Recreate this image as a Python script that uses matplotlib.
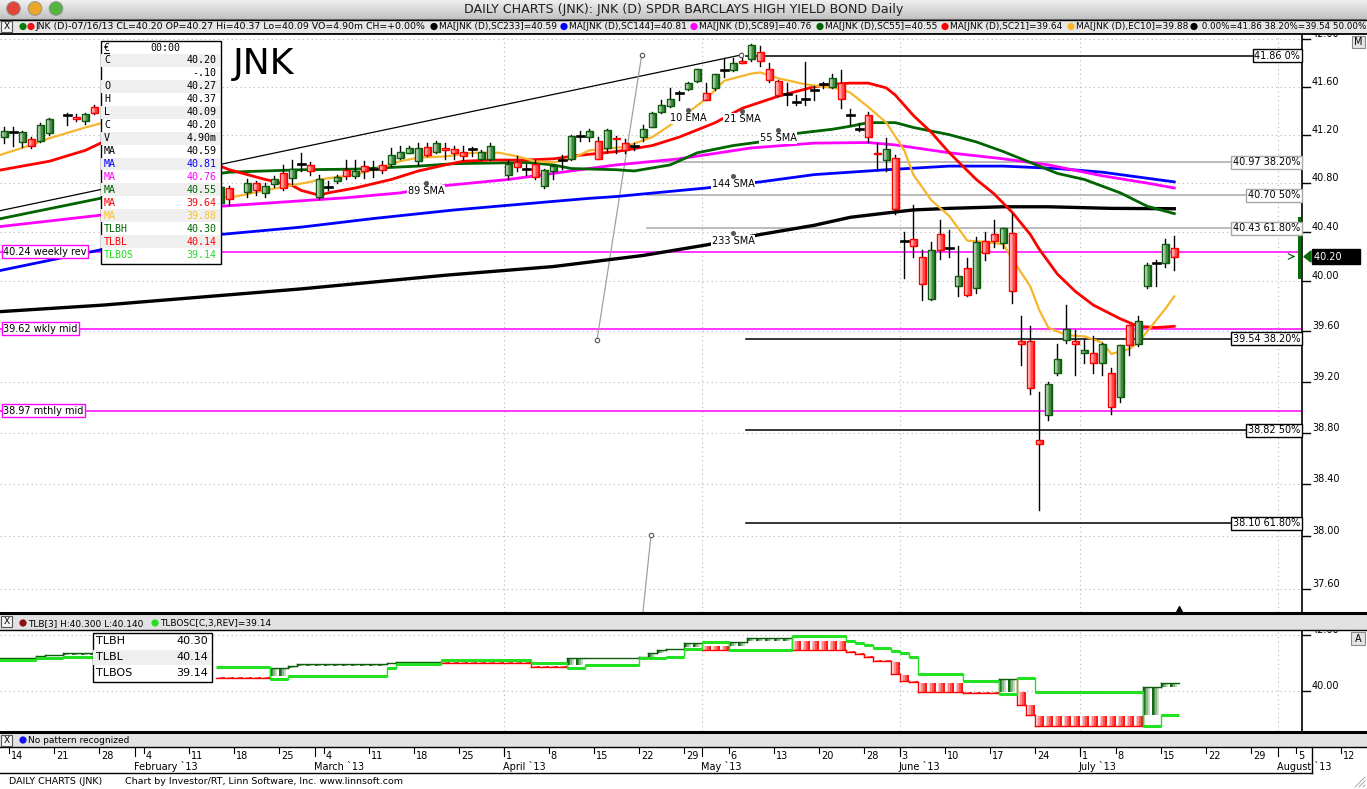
"""JNK daily chart (Investor/RT style) with moving averages and a three-line-break panel."""
import numpy as np
import matplotlib
matplotlib.use("Agg")
import matplotlib.pyplot as plt
from matplotlib.colors import to_rgb
from matplotlib.patches import Circle, Polygon, Rectangle
from matplotlib.transforms import blended_transform_factory

# ── data ───────────────────────────────────────────────────────────────
# slot 0 = Mon Jan 14 2013, one slot per weekday (May 27 / Jul 4 not present,
# Jan 21 / Feb 18 / Mar 29 are empty slots); slots 10-22 sit under the data window
candle_slot = [-1, 0, 1, 2, 3, 4, 6, 7, 8, 9, 23, 24] + list(range(26, 54)) + list(range(55, 130))
candle_open = [41.18, 41.22, 41.14, 41.16, 41.15, 41.21, 41.36, 41.35, 41.31, 41.43,
               40.64, 40.76,
               40.73, 40.80, 40.72, 40.79, 40.88, 40.84, 40.96, 40.95, 40.69, 40.77,
               40.82, 40.91, 40.86, 40.94, 40.92, 40.95, 40.96, 41.01, 41.05, 40.98,
               41.10, 41.06, 41.09, 41.08, 41.06, 41.08, 41.00, 41.00,
               40.87, 40.97, 40.92, 40.96, 40.78, 40.90, 40.99, 41.00, 41.19, 41.18,
               41.15, 41.09, 41.17, 41.13, 41.11, 41.18, 41.26, 41.39, 41.44, 41.55,
               41.58, 41.65, 41.55, 41.59, 41.74, 41.74, 41.82, 41.83, 41.89, 41.75,
               41.65, 41.54, 41.47, 41.50, 41.57, 41.62, 41.60, 41.63, 41.36, 41.25,
               41.36, 41.05, 40.99, 41.01, 40.33, 40.34, 40.20, 39.86, 40.38, 40.27,
               39.96, 40.11, 39.95, 40.33, 40.38, 40.31, 40.39, 39.52, 39.52, 38.74,
               38.94, 39.27, 39.53, 39.52, 39.43, 39.43, 39.35, 39.27, 39.08, 39.65,
               39.50, 39.96, 40.15, 40.15, 40.27]
candle_high = [41.26, 41.26, 41.23, 41.18, 41.30, 41.34, 41.38, 41.37, 41.38, 41.45,
               40.80, 40.78,
               40.83, 40.82, 40.80, 40.86, 40.95, 40.99, 41.05, 40.97, 40.87, 40.82,
               40.87, 40.99, 40.99, 40.98, 40.98, 40.98, 41.09, 41.11, 41.11, 41.13,
               41.13, 41.15, 41.13, 41.11, 41.11, 41.10, 41.07, 41.13,
               40.99, 41.02, 40.96, 40.99, 40.92, 40.95, 41.03, 41.20, 41.23, 41.25,
               41.18, 41.25, 41.19, 41.16, 41.13, 41.28, 41.39, 41.49, 41.59, 41.56,
               41.64, 41.75, 41.63, 41.71, 41.84, 41.84, 41.88, 41.96, 41.94, 41.80,
               41.66, 41.63, 41.53, 41.81, 41.61, 41.64, 41.71, 41.74, 41.41, 41.30,
               41.39, 41.13, 41.17, 41.03, 40.40, 40.62, 40.25, 40.32, 40.50, 40.42,
               40.29, 40.19, 40.36, 40.40, 40.50, 40.43, 40.55, 39.72, 39.64, 39.12,
               39.20, 39.50, 39.81, 39.61, 39.54, 39.56, 39.51, 39.31, 39.49, 39.65,
               39.72, 40.15, 40.17, 40.34, 40.37]
candle_low = [41.13, 41.11, 41.10, 41.09, 41.14, 41.20, 41.28, 41.31, 41.29, 41.37,
              40.62, 40.62,
              40.69, 40.70, 40.69, 40.77, 40.74, 40.79, 40.90, 40.87, 40.67, 40.74,
              40.80, 40.83, 40.84, 40.84, 40.85, 40.88, 40.94, 41.00, 41.05, 40.95,
              41.02, 41.05, 41.00, 41.00, 40.99, 41.02, 40.99, 40.99,
              40.83, 40.90, 40.87, 40.83, 40.76, 40.83, 40.92, 40.99, 41.15, 41.15,
              41.00, 41.06, 41.05, 41.05, 41.07, 41.15, 41.26, 41.38, 41.43, 41.49,
              41.57, 41.64, 41.49, 41.57, 41.68, 41.73, 41.80, 41.82, 41.77, 41.64,
              41.52, 41.45, 41.45, 41.45, 41.49, 41.59, 41.59, 41.42, 41.28, 41.23,
              41.14, 40.91, 40.90, 40.55, 40.03, 40.20, 39.85, 39.85, 40.18, 40.20,
              39.88, 39.88, 39.91, 40.17, 40.28, 40.27, 39.83, 39.33, 39.10, 38.20,
              38.90, 39.25, 39.51, 39.25, 39.35, 39.27, 39.25, 38.95, 39.04, 39.41,
              39.48, 39.95, 39.96, 40.12, 40.09]
candle_close = [41.23, 41.22, 41.22, 41.11, 41.28, 41.33, 41.36, 41.33, 41.37, 41.38,
                40.77, 40.67,
                40.80, 40.74, 40.78, 40.83, 40.76, 40.92, 40.96, 40.90, 40.83, 40.77,
                40.85, 40.86, 40.90, 40.90, 40.92, 40.91, 41.03, 41.06, 41.09, 41.09,
                41.03, 41.13, 41.07, 41.05, 41.02, 41.08, 41.06, 41.11,
                40.96, 40.93, 40.92, 40.85, 40.91, 40.94, 40.99, 41.19, 41.19, 41.23,
                41.00, 41.24, 41.16, 41.07, 41.11, 41.25, 41.38, 41.45, 41.50, 41.55,
                41.63, 41.75, 41.49, 41.71, 41.74, 41.80, 41.80, 41.95, 41.82, 41.66,
                41.53, 41.54, 41.47, 41.50, 41.57, 41.62, 41.67, 41.50, 41.36, 41.25,
                41.18, 41.04, 41.08, 40.59, 40.33, 40.29, 39.98, 40.25, 40.25, 40.27,
                40.04, 39.89, 40.32, 40.23, 40.33, 40.43, 39.92, 39.50, 39.15, 38.71,
                39.18, 39.38, 39.62, 39.50, 39.45, 39.35, 39.50, 39.00, 39.49, 39.49,
                39.68, 40.13, 40.15, 40.30, 40.20]

# moving averages (slot, value)
ema10_slot = [-2, 1, 4, 8, 10, 13, 16, 19, 22, 23, 24, 28, 30, 33, 34, 38, 41, 43, 45, 48,
              51, 54, 56, 58, 60, 62, 64, 68, 71, 74, 77, 79, 82, 83, 85, 88, 90, 92, 93,
              95, 97, 99, 100, 102, 104, 106, 108, 110, 111, 113, 114, 115, 117, 119, 121,
              122, 124, 125, 126, 128, 129]
ema10_val = [41.02, 41.09, 41.17, 41.26, 41.30, 41.15, 40.95, 40.80, 40.70, 40.69, 40.68,
             40.74, 40.77, 40.81, 40.83, 40.87, 40.93, 40.98, 41.01, 41.02, 41.05, 41.05,
             41.02, 40.98, 40.97, 41.00, 41.07, 41.10, 41.18, 41.33, 41.50, 41.65, 41.71,
             41.72, 41.67, 41.62, 41.60, 41.58, 41.55, 41.43, 41.30, 41.07, 40.87, 40.66,
             40.53, 40.33, 40.32, 40.30, 40.18, 39.96, 39.77, 39.63, 39.57, 39.56, 39.51,
             39.42, 39.46, 39.51, 39.60, 39.78, 39.88]
sma21_slot = [-2, 1, 4, 8, 10, 16, 23, 24, 28, 31, 32, 34, 35, 38, 42, 45, 48, 50, 53, 57,
              60, 63, 67, 71, 74, 78, 81, 85, 89, 91, 93, 95, 97, 98, 100, 102, 104, 107,
              109, 111, 113, 114, 116, 118, 120, 123, 125, 127, 129]
sma21_val = [40.90, 40.94, 40.98, 41.07, 41.14, 41.05, 40.94, 40.91, 40.83, 40.78, 40.74,
             40.70, 40.72, 40.76, 40.83, 40.90, 40.95, 40.98, 40.99, 40.99, 41.00, 41.03,
             41.06, 41.11, 41.18, 41.30, 41.42, 41.52, 41.60, 41.62, 41.63, 41.63, 41.59,
             41.53, 41.36, 41.22, 41.05, 40.83, 40.71, 40.56, 40.38, 40.26, 40.06, 39.92,
             39.81, 39.70, 39.64, 39.63, 39.64]
sma55_slot = [-2, 4, 10, 16, 23, 24, 32, 38, 45, 49, 57, 60, 62, 67, 69, 73, 76, 80, 83,
              87, 91, 93, 95, 98, 100, 104, 107, 110, 113, 116, 119, 123, 126, 129]
sma55_val = [40.50, 40.59, 40.68, 40.78, 40.88, 40.89, 40.91, 40.915, 40.94, 40.96, 40.97,
             40.95, 40.92, 40.91, 40.90, 40.95, 41.05, 41.11, 41.14, 41.21, 41.245, 41.27,
             41.30, 41.30, 41.26, 41.20, 41.14, 41.06, 40.97, 40.88, 40.83, 40.72, 40.61,
             40.55]
sma89_slot = [-2, 10, 16, 23, 31, 37, 43, 48, 55, 60, 64, 67, 74, 82, 89, 95, 98, 104, 110,
              115, 121, 126, 129]
sma89_val = [40.44, 40.54, 40.58, 40.61, 40.65, 40.68, 40.72, 40.78, 40.83, 40.88, 40.92,
             40.95, 41.00, 41.09, 41.13, 41.135, 41.115, 41.05, 41.00, 40.95, 40.86, 40.80,
             40.76]
sma144_slot = [-2, 6, 10, 16, 23, 32, 40, 49, 60, 64, 67, 77, 83, 89, 97, 104, 110, 116,
               121, 126, 129]
sma144_val = [40.08, 40.20, 40.26, 40.32, 40.38, 40.44, 40.51, 40.58, 40.65, 40.675, 40.69,
              40.76, 40.81, 40.87, 40.91, 40.94, 40.94, 40.92, 40.89, 40.84, 40.81]
sma233_slot = [-2, 10, 32, 48, 60, 70, 77, 83, 89, 93, 97, 100, 104, 110, 115, 122, 129]
sma233_val = [39.755, 39.81, 39.94, 40.05, 40.12, 40.21, 40.295, 40.38, 40.455, 40.52,
              40.555, 40.58, 40.593, 40.606, 40.606, 40.593, 40.59]

# price levels
fib_black_val = [41.86, 39.54, 38.82, 38.10]
fib_black_txt = ["41.86 0%", "39.54 38.20%", "38.82 50%", "38.10 61.80%"]
fib_gray_val = [40.97, 40.70, 40.43]
fib_gray_txt = ["40.97 38.20%", "40.70 50%", "40.43 61.80%"]
pivot_val = [40.24, 39.62, 38.97]
pivot_txt = ["40.24 weekly rev", "39.62 wkly mid", "38.97 mthly mid"]
price_ticks = [42.00, 41.60, 41.20, 40.80, 40.40, 40.00, 39.60, 39.20, 38.80, 38.40, 38.00, 37.60]

# three line break panel: (first slot, last slot, line low, line high, +1 up / -1 down)
tlb_runs = [(-2, 2, 41.17, 41.20, 1), (3, 3, 41.20, 41.26, 1), (4, 5, 41.26, 41.31, 1),
            (6, 9, 41.31, 41.37, 1), (23, 28, 40.46, 40.50, -1), (29, 30, 40.55, 40.81, 1),
            (31, 31, 40.81, 40.89, 1), (32, 41, 40.89, 40.96, 1), (42, 42, 40.96, 41.01, 1),
            (43, 47, 41.01, 41.05, 1), (48, 57, 40.99, 41.05, -1), (58, 61, 40.87, 40.91, -1),
            (62, 63, 40.95, 41.17, 1), (64, 69, 41.17, 41.19, 1), (70, 70, 41.19, 41.23, 1),
            (71, 71, 41.23, 41.37, 1), (72, 72, 41.37, 41.48, 1), (73, 74, 41.48, 41.52, 1),
            (75, 76, 41.58, 41.74, 1), (77, 79, 41.49, 41.60, -1), (80, 81, 41.61, 41.76, 1),
            (82, 86, 41.79, 41.90, 1), (87, 92, 41.49, 41.79, -1), (93, 93, 41.39, 41.43, -1),
            (94, 94, 41.33, 41.37, -1), (95, 95, 41.21, 41.25, -1), (96, 97, 41.08, 41.12, -1),
            (98, 98, 40.60, 41.05, -1), (99, 99, 40.37, 40.57, -1), (100, 100, 40.31, 40.35, -1),
            (101, 105, 39.98, 40.28, -1), (106, 109, 39.92, 39.96, -1), (110, 111, 39.98, 40.43, 1),
            (112, 112, 39.50, 39.98, -1), (113, 113, 39.14, 39.50, -1), (114, 125, 38.73, 39.10, -1),
            (126, 127, 39.14, 40.13, 1), (128, 129, 40.14, 40.30, 1)]
tlbos_runs = [(-2, 2, 41.10), (3, 5, 41.20), (6, 9, 41.23), (23, 28, 40.85), (29, 30, 40.43),
              (31, 41, 40.55), (42, 42, 40.83), (43, 47, 40.96), (48, 57, 41.13), (58, 61, 41.01),
              (62, 63, 40.83), (64, 69, 40.95), (70, 70, 41.17), (71, 72, 41.19), (73, 74, 41.23),
              (75, 76, 41.52), (77, 79, 41.76), (80, 86, 41.49), (87, 92, 41.96), (93, 93, 41.80),
              (94, 94, 41.73), (95, 95, 41.66), (96, 97, 41.55), (98, 98, 41.43), (99, 99, 41.35),
              (100, 100, 41.23), (101, 105, 40.60), (106, 109, 40.37), (110, 111, 39.89),
              (112, 113, 40.45), (114, 125, 39.98), (126, 127, 38.73), (128, 129, 39.14)]

# date axis
week_slot = [0, 5, 10, 15, 20, 25, 30, 35, 40, 45, 50, 55, 60, 65, 70, 75, 80, 85, 90, 95,
             99, 104, 109, 114, 119, 123, 128, 133, 138, 143, 148]
week_label = ["14", "21", "28", "4", "11", "18", "25", "4", "11", "18", "25", "1", "8", "15",
              "22", "29", "6", "13", "20", "28", "3", "10", "17", "24", "1", "8", "15", "22",
              "29", "5", "12"]
month_slot = [14, 34, 55, 77, 99, 119, 141]
month_label = ["February `13", "March `13", "April `13", "May `13", "June `13", "July `13",
               "August `13"]
grid_month_slot = [55, 77, 99, 119, 141]

# ── geometry of the screenshot ─────────────────────────────────────────
W, H = 1367, 789
X0, DX = 13.3, 9.0                 # x pixel of slot 0, pixels per slot
P0, Y0, KLN = 41.6, 86.7, 4965.0   # main panel is log scaled
AXR = 1302                         # right edge of the plot panels
LOW_TOP, LOW_BOT = 630, 731
LOW_40, LOW_PX = 691.0, 27.85      # lower panel: y of 40.00, px per point

MONO = "DejaVu Sans Mono"
SANS = "DejaVu Sans"
C_UP, C_DN = "#136b13", "#ff1a1a"
C_YEL = "#f7b52c"
C_OS = "#22e022"


def sx(px):
    return (px - X0) / DX


def xpx(slot):
    return X0 + DX * slot


def price_at(py):
    return P0 * np.exp(-(py - Y0) / KLN)


def mix(c0, c1, t):
    a, b = np.array(to_rgb(c0)), np.array(to_rgb(c1))
    return a * (1 - t) + b * t


def grad_box(axis, x0, x1, y0, y1, c_left, c_right, n=6, z=3):
    w = (x1 - x0) / n
    for k in range(n):
        axis.add_patch(Rectangle((x0 + k * w, y0), w * 1.02, y1 - y0,
                                 facecolor=mix(c_left, c_right, k / (n - 1)),
                                 edgecolor="none", zorder=z))


fig = plt.figure(figsize=(W / 100, H / 100), dpi=100)
fig.patch.set_facecolor("white")

# ── main price panel ───────────────────────────────────────────────────
ax = fig.add_axes([0, 1 - 612 / H, AXR / W, (612 - 33) / H])
ax.set_yscale("log")
ax.set_xlim(sx(0), sx(AXR))
ax.set_ylim(price_at(612), price_at(33))
ax.yaxis.set_major_locator(matplotlib.ticker.NullLocator())
ax.yaxis.set_minor_locator(matplotlib.ticker.NullLocator())
ax.set_xticks([])
for side in ["top", "left", "bottom"]:
    ax.spines[side].set_visible(False)
ax.spines["right"].set_linewidth(1.2)
yb = blended_transform_factory(ax.transAxes, ax.transData)

for v in price_ticks:
    ax.axhline(v, color="#b8b8b8", lw=0.8, ls=(0, (1, 3)), zorder=0)
    ax.plot([1, 1 + 8 / AXR], [v, v], color="black", lw=1, transform=yb, clip_on=False)
    ax.text(1 + 10 / AXR, v, f"{v:.2f}", transform=yb, fontsize=7, family=SANS,
            va="bottom", ha="left", clip_on=False)
for s in grid_month_slot:
    ax.axvline(s - 0.5, color="#b8b8b8", lw=0.8, ls=(0, (1, 3)), zorder=0)

# pivots and fibonacci levels
for v, t in zip(pivot_val, pivot_txt):
    ax.axhline(v, color="#ff00ff", lw=1.1, zorder=1.5)
    ax.text(3 / AXR, v, t, transform=yb, fontsize=7, family=SANS, va="center", ha="left",
            zorder=7, bbox=dict(boxstyle="square,pad=0.15", fc="white", ec="#ff00ff", lw=1))
for v, t in zip(fib_gray_val, fib_gray_txt):
    ax.plot([sx(647), sx(AXR)], [v, v], color="#a8a8a8", lw=1.1, zorder=1.5)
    ax.text(0.9985, v, t, transform=yb, fontsize=7, family=SANS, va="center", ha="right",
            zorder=7, bbox=dict(boxstyle="square,pad=0.15", fc="white", ec="#a8a8a8", lw=1))
for v, t in zip(fib_black_val, fib_black_txt):
    ax.plot([sx(746), sx(AXR)], [v, v], color="black", lw=1.1, zorder=1.5)
    ax.text(0.9985, v, t, transform=yb, fontsize=7, family=SANS, va="center", ha="right",
            zorder=7, bbox=dict(boxstyle="square,pad=0.15", fc="white", ec="black", lw=1))

# trend lines
ax.plot([sx(0), sx(741)], [price_at(210.7), price_at(55)], color="black", lw=0.9, zorder=2)
ax.plot([sx(641.7), sx(597)], [price_at(55), price_at(340)], color="#a0a0a0", lw=0.9, zorder=2)
ax.plot([sx(651), sx(640)], [price_at(535), price_at(640)], color="#a0a0a0", lw=0.9, zorder=2)
for cx, cy in [(741, 55), (641.7, 55), (597, 340), (651, 535)]:
    ax.plot(sx(cx), price_at(cy), "o", ms=3.2, mfc="white", mec="#555555", mew=0.8, zorder=6)

# moving averages
ax.plot(sma233_slot, sma233_val, color="black", lw=2.4, zorder=2.2)
ax.plot(sma144_slot, sma144_val, color="#0000ff", lw=2.0, zorder=2.3)
ax.plot(sma89_slot, sma89_val, color="#ff00ff", lw=2.0, zorder=2.4)
ax.plot(sma55_slot, sma55_val, color="#006400", lw=2.0, zorder=2.5)
ax.plot(sma21_slot, sma21_val, color="#ff0000", lw=2.0, zorder=2.6)
ax.plot(ema10_slot, ema10_val, color=C_YEL, lw=1.6, zorder=2.7)
for txt, dxp, dyp in [("10 EMA", 688, 110), ("21 SMA", 742, 110.7), ("55 SMA", 778, 130),
                      ("89 SMA", 426, 183.3), ("144 SMA", 733, 175.7), ("233 SMA", 733, 233.3)]:
    ax.plot(sx(dxp), price_at(dyp), "o", ms=2.6, color="#555555", zorder=6)
    ax.text(sx(dxp), price_at(dyp + 8), txt, fontsize=7, family=SANS, ha="center",
            va="center", zorder=5,
            bbox=dict(boxstyle="square,pad=0.1", fc="white", ec="none"))

# candles
BW = 0.8
for s, o, h, l, c in zip(candle_slot, candle_open, candle_high, candle_low, candle_close):
    ax.plot([s, s], [l, h], color="black", lw=1.0, zorder=3)
    if abs(c - o) < 0.005:
        ax.plot([s - BW / 2, s + BW / 2], [c, c], color="black", lw=1.9, zorder=4)
        continue
    lo, hi = min(o, c), max(o, c)
    if c > o:
        grad_box(ax, s - BW / 2, s + BW / 2, lo, hi, "#ffffff", C_UP, z=3.5)
        edge = "#0d5c0d"
    else:
        grad_box(ax, s - BW / 2, s + BW / 2, lo, hi, "#ffffff", C_DN, z=3.5)
        edge = "#ff0000"
    ax.add_patch(Rectangle((s - BW / 2, lo), BW, hi - lo, fill=False, ec=edge, lw=1.0,
                           zorder=4))

# right edge markers
ax.plot([sx(1299.5)] * 2, [price_at(218), price_at(277)], color="#0a6a0a", lw=2.2, zorder=5)
ax.annotate("", xy=(sx(1298), price_at(256.5)), xytext=(sx(1290), price_at(256.5)),
            arrowprops=dict(arrowstyle="->", color="#0a6a0a", lw=0.9), zorder=5)
ax.add_patch(Polygon([[1 + 2 / AXR, 40.20], [1 + 9 / AXR, price_at(251)],
                      [1 + 9 / AXR, price_at(262)]], closed=True, transform=yb,
                     color="#0a6a0a", clip_on=False, zorder=6))
ax.text(1 + 12 / AXR, 40.20, "40.20     ", transform=yb, fontsize=7, family=SANS,
        color="white", va="center", ha="left", clip_on=False, zorder=7,
        bbox=dict(boxstyle="square,pad=0.25", fc="black", ec="black"))
ax.plot(sx(1179), price_at(609), marker="^", ms=4, color="black", zorder=6, clip_on=False)

# ── three line break panel ─────────────────────────────────────────────
ax2 = fig.add_axes([0, 1 - LOW_BOT / H, AXR / W, (LOW_BOT - LOW_TOP) / H])
ax2.set_xlim(sx(0), sx(AXR))
ax2.set_ylim(40 - (LOW_BOT - LOW_40) / LOW_PX, 40 + (LOW_40 - LOW_TOP) / LOW_PX)
ax2.set_xticks([])
ax2.set_yticks([])
for side in ["top", "left", "bottom"]:
    ax2.spines[side].set_visible(False)
ax2.spines["right"].set_linewidth(1.2)
yb2 = blended_transform_factory(ax2.transAxes, ax2.transData)
for v in [42.0, 40.0]:
    ax2.axhline(v, color="#b8b8b8", lw=0.8, ls=(0, (1, 3)), zorder=0)
    ax2.plot([1, 1 + 8 / AXR], [v, v], color="black", lw=1, transform=yb2, clip_on=False)
    ax2.text(1 + 10 / AXR, v, f"{v:.2f}", transform=yb2, fontsize=7, family=SANS,
             va="bottom", ha="left", clip_on=False)
for s in grid_month_slot:
    ax2.axvline(s - 0.5, color="#b8b8b8", lw=0.8, ls=(0, (1, 3)), zorder=0)

prev = None
for a, b, lo, hi, d in tlb_runs:
    for s in range(a, b + 1):
        if d > 0:
            grad_box(ax2, s - 0.5, s + 0.5, lo, hi, C_UP, "#ffffff", n=5, z=2)
        else:
            grad_box(ax2, s - 0.5, s + 0.5, lo, hi, "#ffffff", C_DN, n=5, z=2)
    col = "#0d5c0d" if d > 0 else "#ff0000"
    edge_v = hi if d > 0 else lo
    ax2.plot([a - 0.5, b + 0.5], [edge_v, edge_v], color=col, lw=1.0, zorder=3)
    if prev is not None and prev[0] == a - 1:
        ax2.plot([a - 0.5, a - 0.5], [prev[1], edge_v], color=col, lw=1.0, zorder=3)
    prev = (b, edge_v)

prev = None
for a, b, v in tlbos_runs:
    ax2.plot([a - 0.5, b + 0.5], [v, v], color=C_OS, lw=2.2, zorder=4,
             solid_capstyle="butt")
    if prev is not None and prev[0] == a - 1:
        ax2.plot([a - 0.5, a - 0.5], [prev[1], v], color=C_OS, lw=1.0, zorder=4)
    prev = (b, v)

# ── overlay in screen pixels: window chrome, legends, date axis ────────
ov = fig.add_axes([0, 0, 1, 1], zorder=10)
ov.set_xlim(0, W)
ov.set_ylim(H, 0)
ov.axis("off")

title_img = np.array([[mix("#efefef", "#c2c2c2", t)] * 4 for t in np.linspace(0, 1, 40)])
ov.imshow(title_img, extent=(0, W, 19, 0), aspect="auto", interpolation="bilinear", zorder=1)
ov.set_xlim(0, W)
ov.set_ylim(H, 0)
ov.plot([0, W], [19, 19], color="#7a7a7a", lw=0.8)
for cx, col in [(13.5, "#e2463b"), (35, "#eaa82b"), (56, "#56b53f")]:
    ov.add_patch(Circle((cx, 8.5), 6.8, fc=col, ec="#8a8a8a", lw=0.6, zorder=3))
ov.text(W / 2, 9.5, "DAILY CHARTS (JNK): JNK (D) SPDR BARCLAYS HIGH YIELD BOND Daily",
        fontsize=9.1, family=SANS, ha="center", va="center", color="#202020")

# legend strip
ov.add_patch(Rectangle((0, 19.5), W, 14, fc="#e6e6e6", ec="none", zorder=1))
ov.plot([0, W], [33.5, 33.5], color="black", lw=1.3, zorder=2)
ov.plot([0, W], [19.5, 19.5], color="black", lw=1.0, zorder=2)
ov.add_patch(Rectangle((1, 21), 11, 11, fc="#f4f4f4", ec="#555555", lw=0.8, zorder=2))
ov.text(6.5, 26.5, "X", fontsize=6.5, family=SANS, ha="center", va="center", zorder=3)
legend_items = [
    (23, "#0a7a0a", None, 6.6),
    (31, "#ee1111", "JNK (D)-07/16/13 CL=40.20 OP=40.27 Hi=40.37 Lo=40.09 VO=4.90m CH=+0.00%", 6.75),
    (434, "black", "MA[JNK (D),SC233]=40.59", 6.5),
    (564, "#0000ff", "MA[JNK (D),SC144]=40.81", 6.5),
    (694, "#ff00ff", "MA[JNK (D),SC89]=40.76", 6.5),
    (820, "#006400", "MA[JNK (D),SC55]=40.55", 6.5),
    (945, "#ff0000", "MA[JNK (D),SC21]=39.64", 6.5),
    (1071, C_YEL, "MA[JNK (D),EC10]=39.88", 6.5),
    (1194, "black", " 0.00%=41.86 38.20%=39.54 50.00%", 6.3),
]
for lx, col, txt, fs in legend_items:
    ov.add_patch(Circle((lx, 26.5), 3.6, fc=col, ec="none", zorder=3))
    if txt:
        ov.text(lx + 5, 26.8, txt, fontsize=fs, family=SANS, ha="left", va="center",
                zorder=3)
ov.add_patch(Rectangle((1352, 35.5), 13, 12, fc="#e4e4e4", ec="#8a8a8a", lw=0.8, zorder=3))
ov.text(1358.5, 41.5, "M", fontsize=7, family=SANS, ha="center", va="center", zorder=4)

# data window
ov.add_patch(Rectangle((100.5, 41), 120, 222.5, fc="white", ec="black", lw=1.0, zorder=4))
rows = [("C", "40.20", "black"), ("", "-.10", "black"), ("O", "40.27", "black"),
        ("H", "40.37", "black"), ("L", "40.09", "black"), ("C", "40.20", "black"),
        ("V", "4.90m", "black"), ("MA", "40.59", "black"), ("MA", "40.81", "#0000ff"),
        ("MA", "40.76", "#ff00ff"), ("MA", "40.55", "#006400"), ("MA", "39.64", "#ff0000"),
        ("MA", "39.88", "#ffc21e"), ("TLBH", "40.30", "#006400"), ("TLBL", "40.14", "#ff0000"),
        ("TLBOS", "39.14", "#22dd22")]
ov.text(104, 47.5, "€", fontsize=7.2, family=MONO, ha="left", va="center", zorder=6)
ov.plot([104, 109], [52.5, 52.5], color="black", lw=0.8, zorder=6)
ov.text(165, 47.5, "00:00", fontsize=7.2, family=MONO, ha="center", va="center", zorder=6)
for k, (lab, val, col) in enumerate(rows):
    yc = 60.3 + 12.95 * k
    if k % 2 == 0:
        ov.add_patch(Rectangle((101.2, yc - 6.4), 118.6, 12.9, fc="#efefef", ec="none",
                               zorder=5))
    ov.text(104, yc, lab, fontsize=7.2, family=MONO, color=col, ha="left", va="center",
            zorder=6)
    ov.text(216.5, yc, val, fontsize=7.2, family=MONO, color=col, ha="right", va="center",
            zorder=6)
ov.text(233, 63.5, "JNK", fontsize=26, family=SANS, ha="left", va="center", zorder=6)

# lower panel header strips
for ytop, ybot in [(612, 630), (731, 747)]:
    ov.add_patch(Rectangle((0, ytop), W, ybot - ytop, fc="#e2e2e2", ec="none", zorder=1))
    ov.plot([0, W], [ytop + 1, ytop + 1], color="black", lw=2.2, zorder=2)
    ov.plot([0, W], [ybot - 0.5, ybot - 0.5], color="black", lw=1.0, zorder=2)
    ov.add_patch(Rectangle((1, ytop + 3.5), 10.5, 11, fc="#f4f4f4", ec="#555555", lw=0.8,
                           zorder=2))
    ov.text(6.3, ytop + 9.5, "X", fontsize=6.5, family=SANS, ha="center", va="center",
            zorder=3)
ov.add_patch(Circle((23, 623), 3.6, fc="#8b1010", ec="none", zorder=3))
ov.text(28, 623.3, "TLB[3] H:40.300 L:40.140", fontsize=6.5, family=SANS, va="center",
        zorder=3)
ov.add_patch(Circle((155, 623), 3.6, fc=C_OS, ec="none", zorder=3))
ov.text(160, 623.3, "TLBOSC[C,3,REV]=39.14", fontsize=6.5, family=SANS, va="center",
        zorder=3)
ov.add_patch(Circle((23, 740), 3.6, fc="#1010ee", ec="none", zorder=3))
ov.text(28, 740.3, "No pattern recognized", fontsize=6.5, family=SANS, va="center", zorder=3)
ov.add_patch(Rectangle((1351, 632), 14, 13, fc="#e4e4e4", ec="#8a8a8a", lw=0.8, zorder=3))
ov.text(1358, 638.5, "A", fontsize=7, family=SANS, ha="center", va="center", zorder=4)

# TLB data window
ov.add_patch(Rectangle((92.5, 633), 119, 49, fc="white", ec="black", lw=1.0, zorder=4))
ov.add_patch(Rectangle((93, 649.5), 118, 15, fc="#efefef", ec="none", zorder=5))
for k, (lab, val) in enumerate([("TLBH", "40.30"), ("TLBL", "40.14"), ("TLBOS", "39.14")]):
    yc = 641.5 + 15.5 * k
    ov.text(96, yc, lab, fontsize=8, family=SANS, ha="left", va="center", zorder=6)
    ov.text(208, yc, val, fontsize=8, family=SANS, ha="right", va="center", zorder=6)

# date axis
ov.plot([0, 1312], [772.5, 772.5], color="black", lw=1.0, zorder=2)
ov.plot([1312, 1312], [747, 772.5], color="black", lw=1.0, zorder=2)
for s, lab in zip(week_slot, week_label):
    xt = xpx(s - 0.5)
    ov.plot([xt, xt], [748, 753], color="black", lw=0.8)
    ov.text(xt + 2, 756, lab, fontsize=7, family=SANS, ha="left", va="center")
for s, lab in zip(month_slot, month_label):
    xt = xpx(s - 0.5)
    ov.plot([xt, xt], [748, 756], color="black", lw=0.8)
    ov.text(xt - 1, 766.5, lab, fontsize=7, family=SANS, ha="left", va="center")

ov.text(9, 781.5, "DAILY CHARTS (JNK)", fontsize=6.8, family=SANS, va="center")
ov.text(125, 781.5, "Chart by Investor/RT, Linn Software, Inc. www.linnsoft.com",
        fontsize=6.8, family=SANS, va="center")
for k in range(3):
    ov.plot([1355 + 4 * k, 1365], [787, 777 + 4 * k], color="#9a9a9a", lw=0.6)

fig.savefig("out.png", dpi=100)
